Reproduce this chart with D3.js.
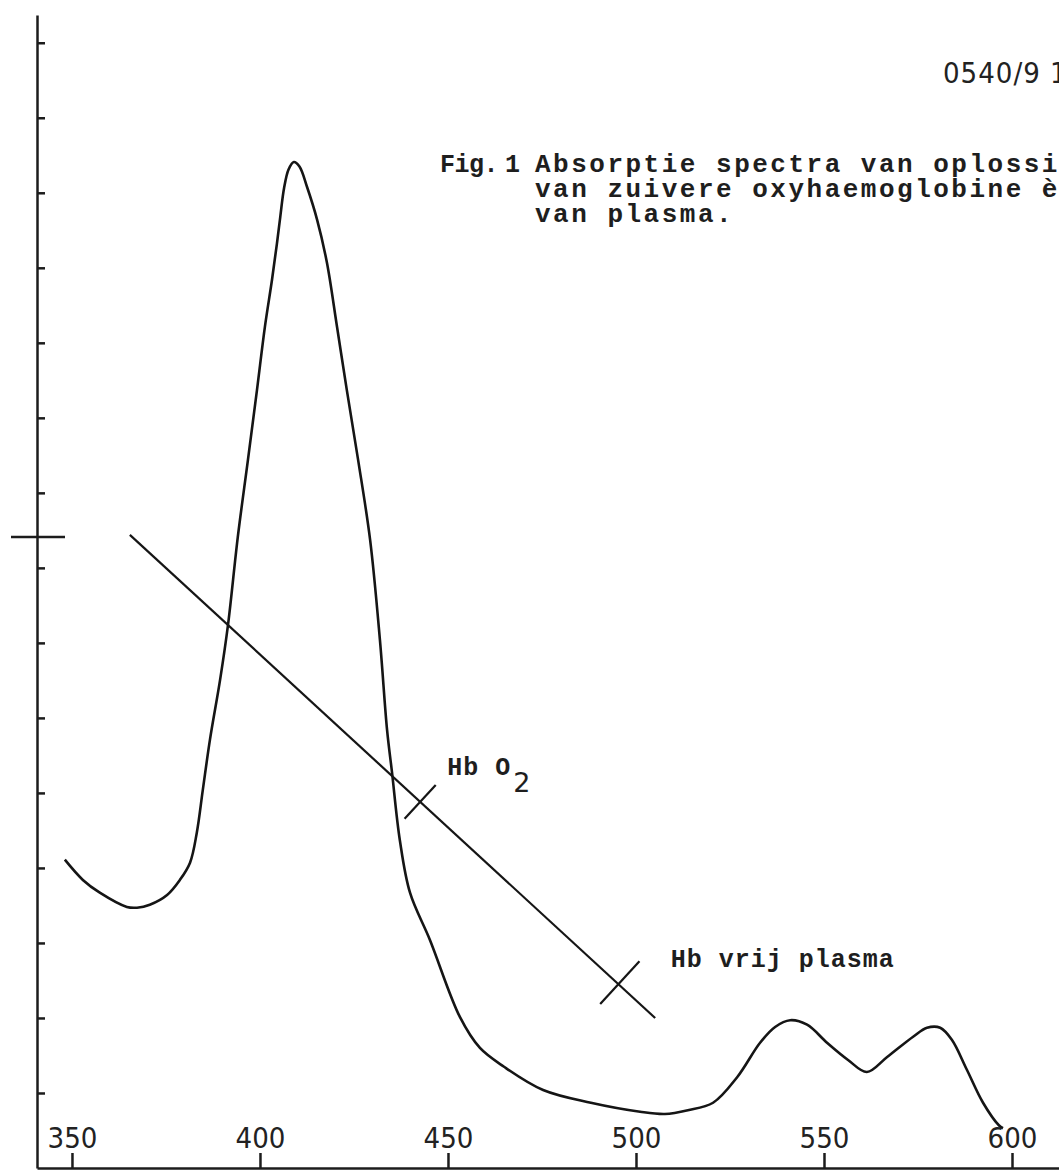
<!DOCTYPE html>
<meta charset="utf-8">
<style>
body { margin: 0; background: #fff; }
svg { display: block; background: #fff; }
.axis path, .axis line { stroke: #1c1c1c; stroke-width: 2.5; }
.axis text {
  font: 29px "DejaVu Sans", sans-serif;
  font-stretch: condensed;
  fill: #222;
}
.typed {
  font-family: "Liberation Mono", "DejaVu Sans Mono", monospace;
  font-weight: bold;
  fill: #1e1e1e;
}
</style>
<svg width="1059" height="1170"></svg>
<script src="https://cdn.jsdelivr.net/npm/d3@7"></script>
<script>

// wavelength (nm) and absorbance
var wavelengths = [348.1, 352.9, 357.4, 364.6, 367.3, 370.7, 375.3, 378.7, 381.4, 383.2,
  384.8, 386.7, 389.4, 391.5, 394.1, 396.8, 399.2, 401.3, 403.2, 404.5,
  405.4, 406.4, 407.6, 409.0, 410.5, 412.5, 415.2, 417.8, 420.5, 423.1,
  426.1, 429.3, 431.9, 433.8, 435.1, 437.2, 439.9, 445.2, 453.2, 458.5,
  464.9, 475.3, 488.0, 501.1, 507.7, 513.8, 520.5, 526.9, 533.0, 537.0,
  541.0, 545.5, 550.8, 556.4, 561.4, 566.8, 573.7, 577.4, 580.9, 584.0,
  588.0, 592.3, 596.5, 597.6];
var absorbance = [0.411, 0.384, 0.367, 0.348, 0.347, 0.351, 0.364, 0.384, 0.407, 0.447,
  0.504, 0.571, 0.651, 0.724, 0.841, 0.944, 1.037, 1.121, 1.184, 1.232,
  1.268, 1.306, 1.331, 1.341, 1.335, 1.308, 1.264, 1.207, 1.121, 1.037,
  0.944, 0.837, 0.704, 0.584, 0.528, 0.437, 0.367, 0.304, 0.201, 0.160,
  0.135, 0.104, 0.087, 0.075, 0.072, 0.077, 0.087, 0.121, 0.167, 0.188,
  0.197, 0.191, 0.167, 0.144, 0.128, 0.148, 0.175, 0.187, 0.187, 0.171,
  0.131, 0.087, 0.057, 0.053];

var xTicks = [350, 400, 450, 500, 550, 600];
var yTicks = [0.1, 0.2, 0.3, 0.4, 0.5, 0.6, 0.7, 0.8, 0.9, 1.0, 1.1, 1.2, 1.3, 1.4, 1.5];
var yMark = 0.841;   // the long cross tick on the left axis

// straight reference line and its two marks
var refLine = [[365.4, 0.844], [505.1, 0.200]];
var marks = [
  { nm: 442.6, a: 0.488, label: "Hb O", sub: "2" },
  { nm: 495.7, a: 0.247, label: "Hb vrij plasma" }
];

var figLabel = ["Fig.", "1"];
var caption = ["Absorptie spectra van oplossingen",
               "van zuivere oxyhaemoglobine èn",
               "van plasma."];
var pageRef = "0540/9 1";

var svg = d3.select("svg"),
    width = +svg.attr("width"),
    height = +svg.attr("height"),
    margin = { left: 37, top: 15, bottom: 2 };

var x = d3.scaleLinear()
    .domain([340.7, 612.5])
    .range([margin.left, width]);

var y = d3.scaleLinear()
    .domain([0, 1.537])
    .range([height - margin.bottom, margin.top]);

// axes
svg.append("g")
    .attr("class", "axis")
    .attr("transform", "translate(0," + (height - margin.bottom) + ")")
    .call(d3.axisTop(x).tickValues(xTicks).tickSize(15).tickPadding(5).tickSizeOuter(0));

svg.append("g")
    .attr("class", "axis")
    .attr("transform", "translate(" + margin.left + ",0)")
    .call(d3.axisRight(y).tickValues(yTicks).tickSize(8).tickFormat("").tickSizeOuter(0));

svg.append("line")
    .attr("x1", margin.left - 26).attr("x2", margin.left + 28)
    .attr("y1", y(yMark)).attr("y2", y(yMark))
    .attr("stroke", "#1c1c1c").attr("stroke-width", 2.5);

// spectrum
var pts = wavelengths.map(function(d, i) { return [d, absorbance[i]]; });
var line = d3.line()
    .x(function(d) { return x(d[0]); })
    .y(function(d) { return y(d[1]); })
    .curve(d3.curveCatmullRom.alpha(0.5));

svg.append("path")
    .datum(pts)
    .attr("d", line)
    .attr("fill", "none")
    .attr("stroke", "#151515")
    .attr("stroke-width", 2.6)
    .attr("stroke-linejoin", "round");

// reference line
svg.append("path")
    .datum(refLine)
    .attr("d", d3.line().x(function(d) { return x(d[0]); }).y(function(d) { return y(d[1]); }))
    .attr("stroke", "#151515")
    .attr("stroke-width", 2.2);

var dx = x(refLine[1][0]) - x(refLine[0][0]),
    dy = y(refLine[1][1]) - y(refLine[0][1]),
    len = Math.sqrt(dx * dx + dy * dy),
    px = dy / len, py = -dx / len;   // perpendicular unit

var markSize = [23, 29];
var labelOff = [[27, -27], [51, -16]];

marks.forEach(function(m, i) {
  var cx = x(m.nm), cy = y(m.a), h = markSize[i];
  svg.append("line")
      .attr("x1", cx - px * h).attr("y1", cy - py * h)
      .attr("x2", cx + px * h).attr("y2", cy + py * h)
      .attr("stroke", "#151515").attr("stroke-width", 2.2);

  var t = svg.append("text")
      .attr("class", "typed")
      .attr("x", cx + labelOff[i][0])
      .attr("y", cy + labelOff[i][1])
      .style("font-size", "25px")
      .style("letter-spacing", "1px")
      .text(m.label);
  if (m.sub) {
    t.append("tspan")
        .attr("dy", 17)
        .attr("dx", 2)
        .style("font-family", "'DejaVu Sans', sans-serif")
        .style("font-weight", "normal")
        .style("font-size", "27px")
        .text(m.sub);
  }
});

// caption
var capTop = 172;
svg.append("text")
    .attr("class", "typed")
    .attr("x", 440).attr("y", capTop)
    .style("font-size", "25px")
    .style("letter-spacing", "-0.5px")
    .text(figLabel[0]);
svg.append("text")
    .attr("class", "typed")
    .attr("x", 505).attr("y", capTop)
    .style("font-size", "25px")
    .text(figLabel[1]);

svg.selectAll(".cap")
    .data(caption)
    .enter().append("text")
    .attr("class", "typed cap")
    .attr("x", 535)
    .attr("y", function(d, i) { return capTop + i * 25; })
    .style("font-size", "26px")
    .style("letter-spacing", "2.5px")
    .text(function(d) { return d; });

// page reference
svg.append("text")
    .attr("x", 943).attr("y", 83)
    .style("font", "29px 'DejaVu Sans', sans-serif")
    .style("font-stretch", "condensed")
    .style("letter-spacing", "1px")
    .attr("fill", "#222")
    .text(pageRef);

</script>
